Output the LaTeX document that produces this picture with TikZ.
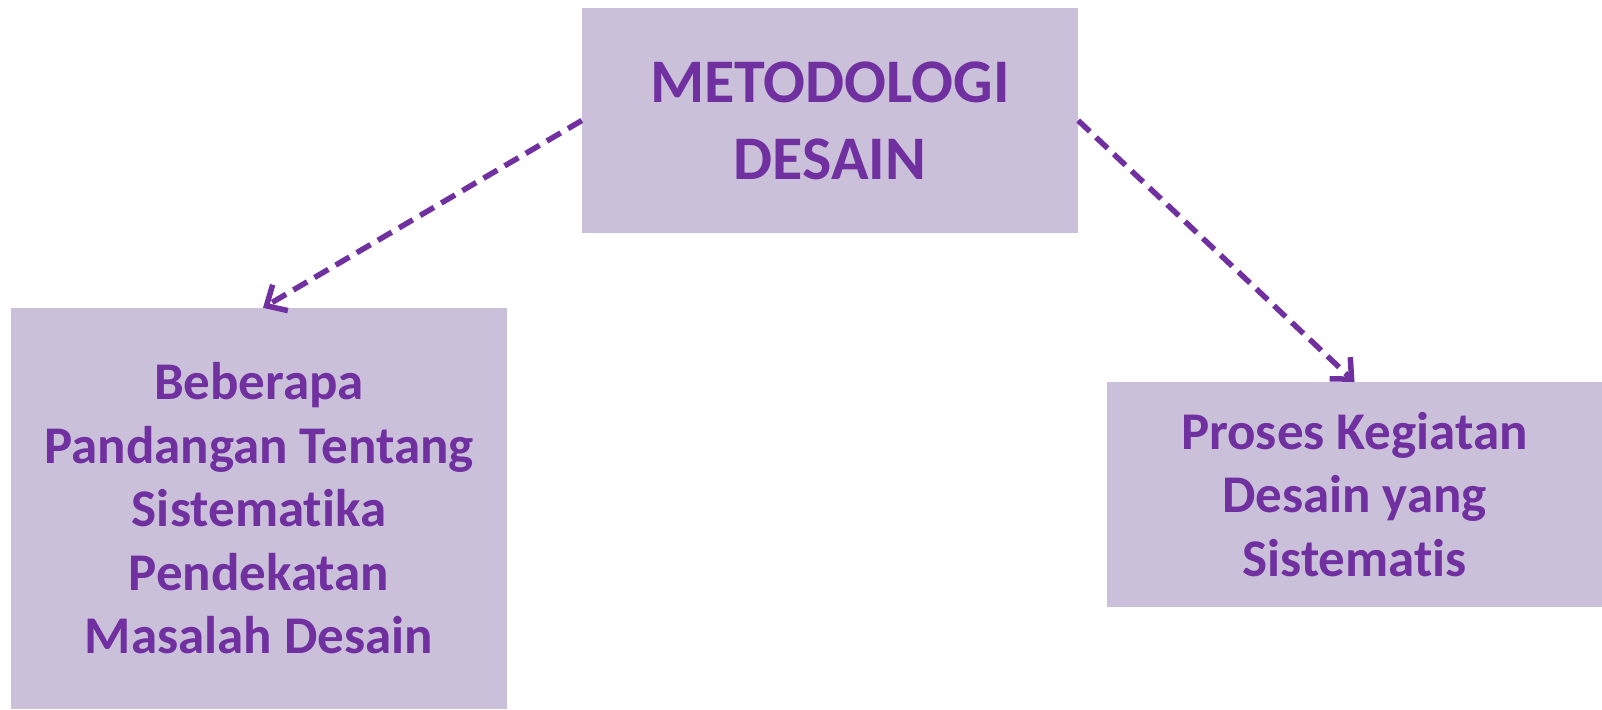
\documentclass[tikz,border=0pt]{standalone}
\usepackage{fontspec}
\setmainfont{Carlito}[Ligatures=NoCommon]
\usetikzlibrary{arrows.meta}
\definecolor{ungu}{RGB}{112,48,160}
\definecolor{unguMuda}{RGB}{203,192,218}
\tikzset{
  kotak/.style={fill=unguMuda, draw=none, text=ungu, align=center, inner sep=0pt,
    font=\bfseries\fontsize{53}{63.5}\selectfont},
  panah/.style={draw=ungu, line width=5.5pt, dash pattern=on 16pt off 8.5pt,
    -{Straight Barb[length=16pt,width=30pt]}}
}
\begin{document}
\begin{tikzpicture}[x=1pt,y=1pt,yscale=-1,xscale=1]
\useasboundingbox (0,0) rectangle (1602,709);

%Shape: Rectangle [metodologi]
\node [kotak, minimum width=496pt, minimum height=225pt,
  font=\bfseries\fontsize{62}{77}\selectfont] (metodologi) at (830,120.5) {METODOLOGI\\DESAIN};
%Shape: Rectangle [pandangan]
\node [kotak, minimum width=496pt, minimum height=401pt] (pandangan) at (259,508.5)
  {Beberapa\\Pandangan Tentang\\Sistematika\\Pendekatan\\Masalah Desain};
%Shape: Rectangle [proses]
\node [kotak, minimum width=495pt, minimum height=225pt] (proses) at (1354.5,494.5)
  {Proses Kegiatan\\Desain yang\\Sistematis};

%Straight Lines [dashed arrows]
\draw [panah] (metodologi.west) -- ([xshift=4pt]pandangan.north);
\draw [panah] (metodologi.east) -- (proses.north);

\end{tikzpicture}
\end{document}
